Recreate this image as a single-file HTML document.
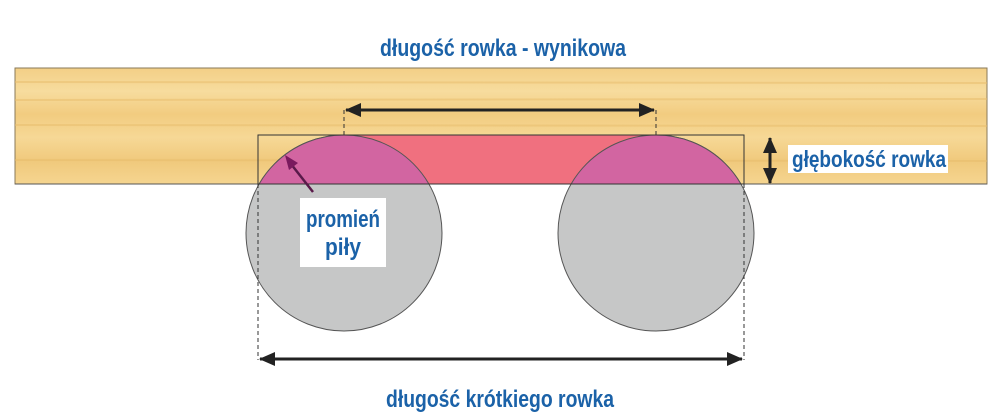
<!DOCTYPE html>
<html><head><meta charset="utf-8"><style>
html,body{margin:0;padding:0;background:#fff;width:1000px;height:416px;overflow:hidden}
svg text{font-family:"Liberation Sans Narrow","Liberation Sans",sans-serif;font-weight:bold;fill:#1b62a8}
</style></head><body>
<svg width="1000" height="416" viewBox="0 0 1000 416" xmlns="http://www.w3.org/2000/svg">
<defs>
<linearGradient id="wood" x1="0" y1="0" x2="0" y2="1">
<stop offset="0" stop-color="#f3cf86"/><stop offset="0.2" stop-color="#f7dc9e"/>
<stop offset="0.4" stop-color="#f2cc80"/><stop offset="0.6" stop-color="#f6d896"/>
<stop offset="0.8" stop-color="#f0c97c"/><stop offset="1" stop-color="#f5d590"/>
</linearGradient>
<clipPath id="board"><rect x="15" y="68" width="972" height="116"/></clipPath>
<marker id="ah" markerWidth="16" markerHeight="16" refX="15" refY="8" orient="auto-start-reverse" markerUnits="userSpaceOnUse">
<path d="M0,1 L16,8 L0,15 z" fill="#222"/></marker>
</defs>
<rect x="15" y="68" width="972" height="116" fill="url(#wood)" stroke="#8a7a5a" stroke-width="1"/>
<g stroke="#e8bd6c" stroke-width="2" opacity="0.5">
<line x1="15" y1="82" x2="987" y2="83"/><line x1="15" y1="100" x2="987" y2="99"/>
<line x1="15" y1="125" x2="987" y2="126"/><line x1="15" y1="160" x2="987" y2="161"/>
</g>
<circle cx="344" cy="233" r="98" fill="#c6c7c7" stroke="#555" stroke-width="1"/>
<circle cx="656" cy="233" r="98" fill="#c6c7c7" stroke="#555" stroke-width="1"/>
<rect x="344" y="135" width="312" height="49" fill="#f0707f"/>
<g clip-path="url(#board)">
<circle cx="344" cy="233" r="98" fill="#d265a1" stroke="#555" stroke-width="1"/>
<circle cx="656" cy="233" r="98" fill="#d265a1" stroke="#555" stroke-width="1"/>
</g>
<line x1="15" y1="184" x2="987" y2="184" stroke="#555" stroke-width="1"/>
<rect x="258" y="135" width="486" height="49" fill="none" stroke="#333" stroke-width="1"/>
<g stroke="#333" stroke-width="1" stroke-dasharray="4,3">
<line x1="344" y1="110" x2="344" y2="135"/><line x1="656" y1="110" x2="656" y2="135"/>
<line x1="258" y1="184" x2="258" y2="360"/><line x1="744" y1="184" x2="744" y2="360"/>
</g>
<line x1="346" y1="110" x2="654" y2="110" stroke="#222" stroke-width="3" marker-start="url(#ah)" marker-end="url(#ah)"/>
<line x1="260" y1="359" x2="742" y2="359" stroke="#222" stroke-width="3" marker-start="url(#ah)" marker-end="url(#ah)"/>
<line x1="770" y1="138" x2="770" y2="183" stroke="#222" stroke-width="3" marker-start="url(#ah)" marker-end="url(#ah)"/>
<line x1="313" y1="192" x2="291" y2="164" stroke="#5a1a4a" stroke-width="2.5"/>
<path d="M285,155 L298,163 L289,170 z" fill="#7a1a5e"/>
<rect x="788" y="145" width="160" height="28" fill="#fff"/>
<text x="792" y="167" font-size="23" textLength="154" lengthAdjust="spacingAndGlyphs">głębokość rowka</text>
<rect x="300" y="198" width="86" height="69" fill="#fff"/>
<text x="306" y="227" font-size="24" textLength="74" lengthAdjust="spacingAndGlyphs">promień</text>
<text x="325" y="255" font-size="24" textLength="36" lengthAdjust="spacingAndGlyphs">piły</text>
<text x="380" y="56" font-size="24" textLength="246" lengthAdjust="spacingAndGlyphs">długość rowka - wynikowa</text>
<text x="386" y="407" font-size="24" textLength="228" lengthAdjust="spacingAndGlyphs">długość krótkiego rowka</text>
</svg>
</body></html>
